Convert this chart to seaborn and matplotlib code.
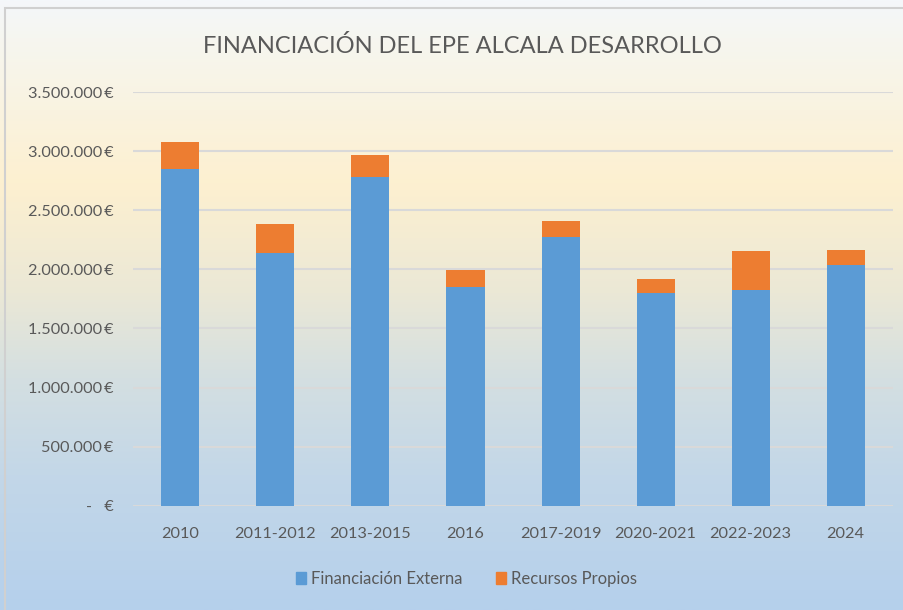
import numpy as np
import pandas as pd
import seaborn as sns
import matplotlib.pyplot as plt
from matplotlib.colors import LinearSegmentedColormap
from matplotlib.patches import Patch, Rectangle
from matplotlib.ticker import FuncFormatter

periodos = ["2010", "2011-2012", "2013-2015", "2016", "2017-2019",
            "2020-2021", "2022-2023", "2024"]
financiacion_externa = [2848000, 2139000, 2780000, 1853000, 2275000,
                        1800000, 1828000, 2037000]
recursos_propios = [234000, 248000, 184000, 145000, 136000,
                    121000, 330000, 129000]

df = pd.DataFrame({"periodo": periodos,
                   "externa": financiacion_externa,
                   "propios": recursos_propios})
df["total"] = df["externa"] + df["propios"]

sns.set_style("white")
plt.rcParams["font.family"] = ["Lato", "DejaVu Sans"]

azul = "#5b9bd5"
naranja = "#ed7d31"
gris_texto = "#595959"

fig = plt.figure(figsize=(9.04, 6.10), dpi=100)

# fondo degradado
bg = fig.add_axes([0, 0, 1, 1], zorder=-10)
cmap = LinearSegmentedColormap.from_list(
    "fondo", [(0.0, "#f4f7fa"), (0.06, "#f6f6f0"), (0.30, "#fdf0d0"),
              (0.48, "#ebe8d6"), (0.62, "#d4dfe1"), (0.78, "#c3d7e8"),
              (1.0, "#b5d0ec")])
bg.imshow(np.linspace(0, 1, 256).reshape(-1, 1), aspect="auto", cmap=cmap,
          extent=[0, 1, 0, 1])
bg.add_patch(Rectangle((0.006, -0.01), 1.0, 1.0 - 0.003, fill=False,
                       edgecolor="#d0d0d0", lw=1.5, transform=bg.transAxes))
bg.set_axis_off()

ax = fig.add_axes([0.147, 0.171, 0.841, 0.678])
ax.patch.set_alpha(0)

sns.barplot(data=df, x="periodo", y="total", color=naranja, width=0.4,
            saturation=1, linewidth=0, ax=ax, zorder=3)
sns.barplot(data=df, x="periodo", y="externa", color=azul, width=0.4,
            saturation=1, linewidth=0, ax=ax, zorder=4)

ax.set_ylim(0, 3500000)
ax.set_yticks(np.arange(0, 3500001, 500000))
ax.yaxis.set_major_formatter(FuncFormatter(
    lambda v, p: "-   €" if v == 0 else f"{v:,.0f}".replace(",", ".") + "\u2009€"))
ax.grid(axis="y", color="#d9d9d9", lw=1.5, zorder=0)
ax.set_axisbelow(True)
sns.despine(ax=ax, left=True, bottom=True)
ax.set_xlabel("")
ax.set_ylabel("")
ax.tick_params(axis="both", length=0, labelsize=11.7, colors=gris_texto, pad=15)
ax.tick_params(axis="y", pad=14)

fig.text(0.511, 0.924, "FINANCIACIÓN DEL EPE ALCALA DESARROLLO",
         ha="center", va="center", fontsize=17, color="#595959")

handles = [Patch(color=azul, label="Financiación Externa"),
           Patch(color=naranja, label="Recursos Propios")]
fig.legend(handles=handles, loc="center", bbox_to_anchor=(0.516, 0.051),
           ncol=2, frameon=False, fontsize=12, handlelength=0.6,
           handleheight=0.8, handletextpad=0.3, columnspacing=2.0,
           labelcolor=gris_texto)

fig.savefig("out.png", dpi=100)
